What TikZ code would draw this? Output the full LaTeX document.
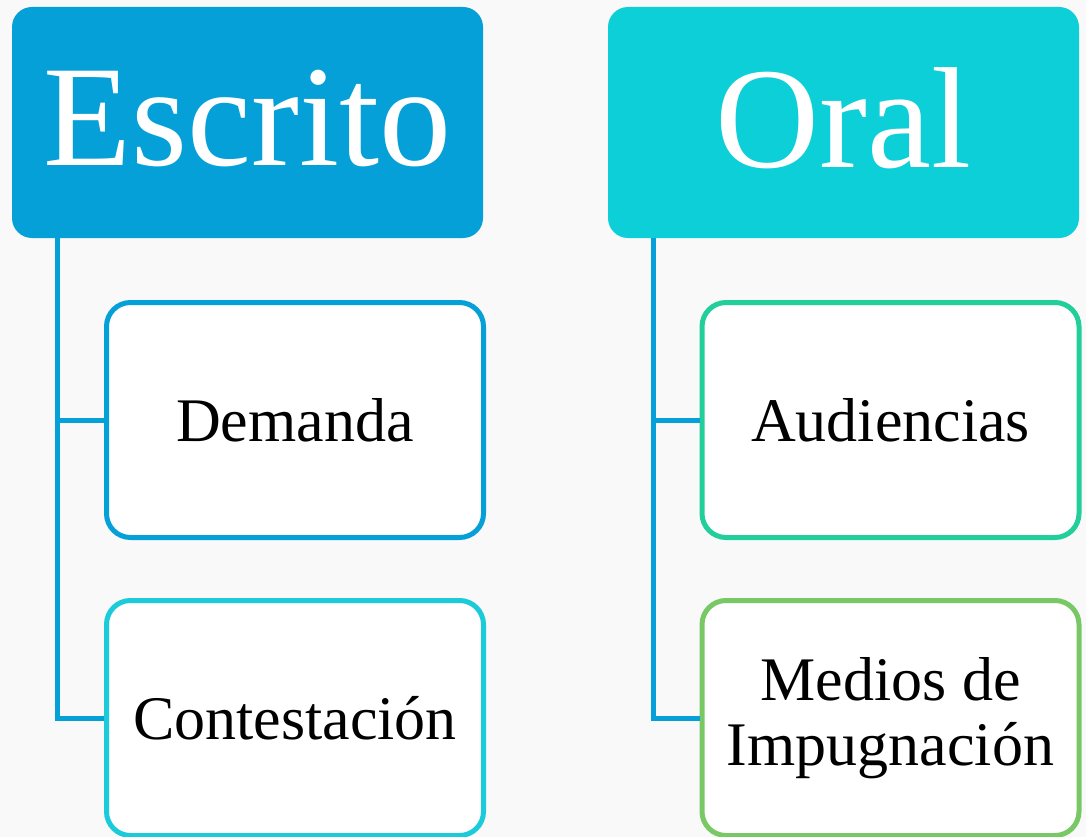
\documentclass[tikz,border=0pt]{standalone}
\usepackage{fontspec}
\setmainfont{Liberation Serif}
\definecolor{escblue}{HTML}{05A0D8}
\definecolor{oralcyan}{HTML}{0CCFD8}
\definecolor{contcyan}{HTML}{1CCBDA}
\definecolor{audgreen}{HTML}{22CE9A}
\definecolor{medgreen}{HTML}{78C965}
\definecolor{bgcol}{HTML}{F9F9F9}
\begin{document}
\begin{tikzpicture}[x=1pt,y=-1pt,
  head/.style={rounded corners=20pt, minimum width=471pt, minimum height=231pt, inner sep=0pt, text=white, font=\fontsize{144}{150}\selectfont},
  child/.style={draw, line width=5pt, fill=white, rounded corners=24pt, minimum width=377pt, minimum height=235pt, inner sep=0pt, text=black, font=\fontsize{62}{65}\selectfont, align=center},
  conn/.style={draw=escblue, line width=5pt}]
\clip (0,0) rectangle (1086,837);
\fill[bgcol] (0,0) rectangle (1086,837);
\node[head, fill=escblue] (esc) at (247.5,122.5) {\raisebox{9pt}{Escrito}};
\node[head, fill=oralcyan] (oral) at (843.5,122.5) {\raisebox{9pt}{Oral}};
\node[child, draw=escblue] (dem) at (295,420) {Demanda};
\node[child, draw=contcyan] (con) at (295,718) {Contestación};
\node[child, draw=audgreen] (aud) at (890.5,420) {Audiencias};
\node[child, draw=medgreen] (med) at (890.5,718) {\raisebox{-12pt}{\parbox{370pt}{\centering Medios de\\Impugnación}}};
\coordinate (escL) at (57,238);
\coordinate (oralL) at (653,238);
\draw[conn] (escL) |- (dem.west);
\draw[conn] (escL) |- (con.west);
\draw[conn] (oralL) |- (aud.west);
\draw[conn] (oralL) |- (med.west);
\end{tikzpicture}
\end{document}
